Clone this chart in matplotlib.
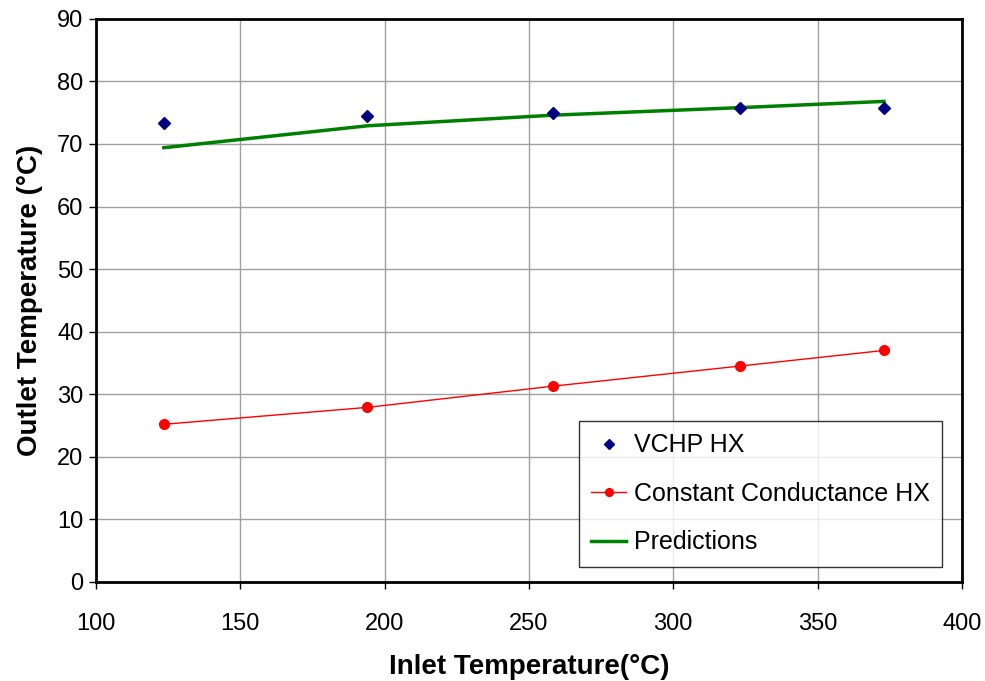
import matplotlib
matplotlib.use("Agg")
import matplotlib.pyplot as plt

# values
inlet = [123.5, 194.0, 258.5, 323.0, 373.0]
vchp_hx = [73.3, 74.4, 74.9, 75.7, 75.8]
const_cond_hx = [25.2, 27.9, 31.3, 34.5, 37.0]
predictions = [69.4, 72.9, 74.6, 75.8, 76.8]

x_ticks = [100, 150, 200, 250, 300, 350, 400]
y_ticks = [0, 10, 20, 30, 40, 50, 60, 70, 80, 90]

plt.rcParams['font.family'] = ['Liberation Sans', 'DejaVu Sans']

fig = plt.figure(figsize=(9.85, 6.81), dpi=100)
ax = fig.add_axes([0.0975, 0.1454, 0.879, 0.827])

ax.plot(inlet, vchp_hx, linestyle='none', marker='D', markersize=6,
        color='#000080', label='VCHP HX', zorder=4)
ax.plot(inlet, const_cond_hx, color='red', linewidth=1, marker='o',
        markersize=7, label='Constant Conductance HX', zorder=3)
ax.plot(inlet, predictions, color='#008000', linewidth=2.5,
        label='Predictions', zorder=3)

ax.set_xlim(100, 400)
ax.set_ylim(0, 90)
ax.set_xticks(x_ticks)
ax.set_yticks(y_ticks)
ax.grid(True, color='#a0a0a0', linewidth=1)
ax.set_axisbelow(True)
ax.tick_params(direction='out', length=5, width=1, labelsize=17)
ax.tick_params(axis='x', pad=17)
ax.tick_params(axis='y', pad=4)
for s in ax.spines.values():
    s.set_linewidth(2)

ax.set_xlabel('Inlet Temperature(°C)', fontsize=20, fontweight='bold', labelpad=14)
ax.set_ylabel('Outlet Temperature (°C)', fontsize=20, fontweight='bold', labelpad=10)

leg = ax.legend(loc='lower right', bbox_to_anchor=(0.977, 0.027), fontsize=18,
                frameon=True, fancybox=False, edgecolor='black',
                labelspacing=0.98, handlelength=1.4, handletextpad=0.3,
                borderpad=0.5, borderaxespad=0, markerscale=0.8)
leg.get_frame().set_linewidth(1)

fig.savefig('out.png', dpi=100)
